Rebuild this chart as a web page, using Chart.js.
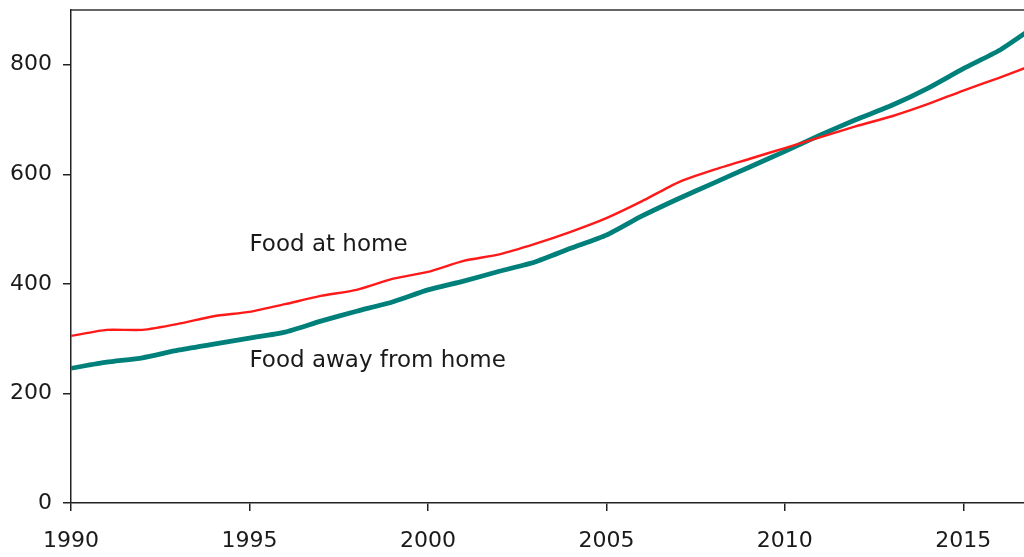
<!DOCTYPE html>
<html>
<head>
<meta charset="utf-8">
<script src="https://cdn.jsdelivr.net/npm/chart.js@4"></script>
<style>
  html, body { margin: 0; padding: 0; background: #fff; }
  #wrap { width: 1024px; height: 557px; position: relative; }
</style>
</head>
<body>
<div id="wrap"><canvas id="foodChart"></canvas></div>
<script>
const years = [1990, 1991, 1992, 1993, 1994, 1995, 1996, 1997, 1998, 1999, 2000, 2001, 2002, 2003,
  2004, 2005, 2006, 2007, 2008, 2009, 2010, 2011, 2012, 2013, 2014, 2015, 2016, 2017];
const foodAtHome = [305, 316, 316, 327, 341, 349, 363, 378, 389, 409, 422, 442, 454, 473,
  495, 520, 551, 585, 608, 628, 648, 668, 688, 706, 728, 753, 776, 801];
const foodAwayFromHome = [246, 257, 265, 279, 290, 301, 312, 332, 350, 367, 389, 405, 423, 440,
  465, 489, 524, 555, 584, 613, 642, 672, 700, 726, 757, 793, 826, 870];
const xTicks = [1990, 1995, 2000, 2005, 2010, 2015];
const yTicks = [0, 200, 400, 600, 800];
const labels = [
  { text: 'Food at home', x: 1995, y: 460 },
  { text: 'Food away from home', x: 1995, y: 248 }
];

const fontFamily = '"DejaVu Sans", sans-serif';

// draws the top frame line and the two line labels
const extras = {
  id: 'extras',
  afterDraw(chart) {
    const { ctx, chartArea, scales } = chart;
    ctx.save();
    ctx.strokeStyle = '#333';
    ctx.lineWidth = 1.5;
    ctx.beginPath();
    ctx.moveTo(chartArea.left, chartArea.top);
    ctx.lineTo(chartArea.right, chartArea.top);
    ctx.stroke();

    ctx.fillStyle = '#1a1a1a';
    ctx.font = '23px ' + fontFamily;
    ctx.textBaseline = 'alphabetic';
    labels.forEach(l => {
      ctx.fillText(l.text, scales.x.getPixelForValue(l.x), scales.y.getPixelForValue(l.y));
    });
    ctx.restore();
  }
};

new Chart(document.getElementById('foodChart'), {
  type: 'line',
  data: {
    datasets: [
      {
        label: 'Food at home',
        data: years.map((y, i) => ({ x: y, y: foodAtHome[i] })),
        borderColor: '#ff1a1a',
        borderWidth: 2.4,
        pointRadius: 0,
        tension: 0.2
      },
      {
        label: 'Food away from home',
        data: years.map((y, i) => ({ x: y, y: foodAwayFromHome[i] })),
        borderColor: '#00807a',
        borderWidth: 4.8,
        pointRadius: 0,
        tension: 0.2
      }
    ]
  },
  options: {
    responsive: true,
    maintainAspectRatio: false,
    animation: false,
    layout: { padding: { top: 10, right: 0, left: 0, bottom: 0 } },
    plugins: { legend: { display: false }, tooltip: { enabled: false } },
    scales: {
      x: {
        type: 'linear',
        min: 1990,
        max: 2016.7,
        afterBuildTicks: scale => { scale.ticks = xTicks.map(v => ({ value: v })); },
        afterFit: scale => { scale.height = 54; scale.paddingLeft = 0; scale.paddingRight = 0; },
        border: { color: '#222', width: 1.5 },
        grid: { drawOnChartArea: false, drawTicks: true, tickLength: 8, color: '#222', lineWidth: 1.5 },
        ticks: {
          color: '#1a1a1a',
          font: { family: fontFamily, size: 22 },
          padding: 17,
          maxRotation: 0,
          callback: v => String(v)
        }
      },
      y: {
        min: 0,
        max: 900,
        afterBuildTicks: scale => { scale.ticks = yTicks.map(v => ({ value: v })); },
        afterFit: scale => { scale.width = 71; scale.paddingTop = 0; scale.paddingBottom = 0; },
        border: { color: '#222', width: 1.5 },
        grid: { drawOnChartArea: false, drawTicks: true, tickLength: 8, color: '#222', lineWidth: 1.5 },
        ticks: {
          color: '#1a1a1a',
          font: { family: fontFamily, size: 22 },
          padding: 11,
          callback: v => String(v)
        }
      }
    }
  },
  plugins: [extras]
});
</script>
</body>
</html>
